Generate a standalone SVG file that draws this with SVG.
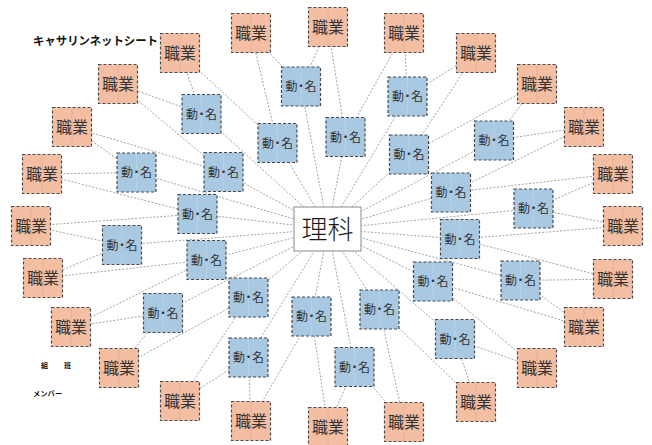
<svg xmlns="http://www.w3.org/2000/svg" width="652" height="445" viewBox="0 0 652 445">
<style>
.c{stroke:#8c8c8c;stroke-width:0.8;stroke-dasharray:2 1.6;fill:none}
.job rect{fill:#f4bea3;stroke:#4a4a4a;stroke-width:1.2;stroke-dasharray:3 2}
.job line{stroke:#e5ab90;stroke-width:0.8}
.vn rect{fill:#a9c9e2;stroke:#4a4a4a;stroke-width:1.2;stroke-dasharray:3 2}
.vn line{stroke:#b9d4e8;stroke-width:0.8}
text{font-family:"Liberation Sans","Noto Sans CJK JP",sans-serif;fill:#333;text-anchor:middle}
.job text{font-size:16px}
.vn text{font-size:12px}
.lbl{text-anchor:start;font-weight:bold;fill:#111}
</style>
<rect width="652" height="445" fill="#fff"/>
<g id="connectors">
<line class="c" x1="328" y1="229" x2="345.5" y2="137"/>
<line class="c" x1="328" y1="229" x2="407.5" y2="96.5"/>
<line class="c" x1="328" y1="229" x2="409" y2="154.5"/>
<line class="c" x1="328" y1="229" x2="494" y2="140.5"/>
<line class="c" x1="328" y1="229" x2="451" y2="192.5"/>
<line class="c" x1="328" y1="229" x2="533.5" y2="208.5"/>
<line class="c" x1="328" y1="229" x2="460" y2="239"/>
<line class="c" x1="328" y1="229" x2="520.5" y2="280.5"/>
<line class="c" x1="328" y1="229" x2="433" y2="281.5"/>
<line class="c" x1="328" y1="229" x2="455" y2="339"/>
<line class="c" x1="328" y1="229" x2="379.5" y2="309.5"/>
<line class="c" x1="328" y1="229" x2="354.5" y2="367"/>
<line class="c" x1="328" y1="229" x2="311.5" y2="316.5"/>
<line class="c" x1="328" y1="229" x2="248.5" y2="357.5"/>
<line class="c" x1="328" y1="229" x2="248.5" y2="297.5"/>
<line class="c" x1="328" y1="229" x2="163" y2="313"/>
<line class="c" x1="328" y1="229" x2="206.5" y2="260"/>
<line class="c" x1="328" y1="229" x2="122" y2="245"/>
<line class="c" x1="328" y1="229" x2="197.5" y2="214"/>
<line class="c" x1="328" y1="229" x2="136.5" y2="172.5"/>
<line class="c" x1="328" y1="229" x2="223.5" y2="172"/>
<line class="c" x1="328" y1="229" x2="201.5" y2="114"/>
<line class="c" x1="328" y1="229" x2="277.5" y2="143"/>
<line class="c" x1="328" y1="229" x2="301" y2="86.5"/>
<path class="c" d="M328 27L345.5 137L404 33"/>
<path class="c" d="M404 33L407.5 96.5L476 53"/>
<path class="c" d="M476 53L409 154.5L537 84"/>
<path class="c" d="M537 84L494 140.5L584 127"/>
<path class="c" d="M584 127L451 192.5L613 174"/>
<path class="c" d="M613 174L533.5 208.5L623 226"/>
<path class="c" d="M623 226L460 239L613 279"/>
<path class="c" d="M613 279L520.5 280.5L584 327"/>
<path class="c" d="M584 327L433 281.5L537 368"/>
<path class="c" d="M537 368L455 339L476 402"/>
<path class="c" d="M476 402L379.5 309.5L404 422"/>
<path class="c" d="M404 422L354.5 367L328 427"/>
<path class="c" d="M328 427L311.5 316.5L251 421"/>
<path class="c" d="M251 421L248.5 357.5L180 401"/>
<path class="c" d="M180 401L248.5 297.5L119 368"/>
<path class="c" d="M119 368L163 313L71 327"/>
<path class="c" d="M71 327L206.5 260L43 278"/>
<path class="c" d="M43 278L122 245L31 226"/>
<path class="c" d="M31 226L197.5 214L42 174"/>
<path class="c" d="M42 174L136.5 172.5L72 127"/>
<path class="c" d="M72 127L223.5 172L118 84"/>
<path class="c" d="M118 84L201.5 114L180 53"/>
<path class="c" d="M180 53L277.5 143L251 33"/>
<path class="c" d="M251 33L301 86.5L328 27"/>
</g>
<g id="center">
<rect x="294" y="207" width="67" height="44" fill="#fff" stroke="#8a8a8a" stroke-width="1"/>
<text x="327.5" y="238.5" style="font-size:26px;fill:#1a1a1a;font-weight:300">理科</text>
</g>
<g id="title"><text class="lbl" x="33" y="45" style="font-size:11.5px" textLength="125" lengthAdjust="spacingAndGlyphs">キャサリンネットシート</text></g>
<g id="footer">
<text class="lbl" x="41" y="368" style="font-size:7px">組</text>
<text class="lbl" x="64" y="368" style="font-size:7px">班</text>
<text class="lbl" x="33" y="396" style="font-size:7.3px">メンバー</text>
</g>
<g id="jobs">
<g id="job0" class="job" transform="translate(328 27)"><rect x="-19.5" y="-19.5" width="39" height="39"/><line x1="0" y1="-19" x2="0" y2="19"/><text y="6">職業</text></g>
<g id="job1" class="job" transform="translate(404 33)"><rect x="-19.5" y="-19.5" width="39" height="39"/><line x1="0" y1="-19" x2="0" y2="19"/><text y="6">職業</text></g>
<g id="job2" class="job" transform="translate(476 53)"><rect x="-19.5" y="-19.5" width="39" height="39"/><line x1="0" y1="-19" x2="0" y2="19"/><text y="6">職業</text></g>
<g id="job3" class="job" transform="translate(537 84)"><rect x="-19.5" y="-19.5" width="39" height="39"/><line x1="0" y1="-19" x2="0" y2="19"/><text y="6">職業</text></g>
<g id="job4" class="job" transform="translate(584 127)"><rect x="-19.5" y="-19.5" width="39" height="39"/><line x1="0" y1="-19" x2="0" y2="19"/><text y="6">職業</text></g>
<g id="job5" class="job" transform="translate(613 174)"><rect x="-19.5" y="-19.5" width="39" height="39"/><line x1="0" y1="-19" x2="0" y2="19"/><text y="6">職業</text></g>
<g id="job6" class="job" transform="translate(623 226)"><rect x="-19.5" y="-19.5" width="39" height="39"/><line x1="0" y1="-19" x2="0" y2="19"/><text y="6">職業</text></g>
<g id="job7" class="job" transform="translate(613 279)"><rect x="-19.5" y="-19.5" width="39" height="39"/><line x1="0" y1="-19" x2="0" y2="19"/><text y="6">職業</text></g>
<g id="job8" class="job" transform="translate(584 327)"><rect x="-19.5" y="-19.5" width="39" height="39"/><line x1="0" y1="-19" x2="0" y2="19"/><text y="6">職業</text></g>
<g id="job9" class="job" transform="translate(537 368)"><rect x="-19.5" y="-19.5" width="39" height="39"/><line x1="0" y1="-19" x2="0" y2="19"/><text y="6">職業</text></g>
<g id="job10" class="job" transform="translate(476 402)"><rect x="-19.5" y="-19.5" width="39" height="39"/><line x1="0" y1="-19" x2="0" y2="19"/><text y="6">職業</text></g>
<g id="job11" class="job" transform="translate(404 422)"><rect x="-19.5" y="-19.5" width="39" height="39"/><line x1="0" y1="-19" x2="0" y2="19"/><text y="6">職業</text></g>
<g id="job12" class="job" transform="translate(328 427)"><rect x="-19.5" y="-19.5" width="39" height="39"/><line x1="0" y1="-19" x2="0" y2="19"/><text y="6">職業</text></g>
<g id="job13" class="job" transform="translate(251 421)"><rect x="-19.5" y="-19.5" width="39" height="39"/><line x1="0" y1="-19" x2="0" y2="19"/><text y="6">職業</text></g>
<g id="job14" class="job" transform="translate(180 401)"><rect x="-19.5" y="-19.5" width="39" height="39"/><line x1="0" y1="-19" x2="0" y2="19"/><text y="6">職業</text></g>
<g id="job15" class="job" transform="translate(119 368)"><rect x="-19.5" y="-19.5" width="39" height="39"/><line x1="0" y1="-19" x2="0" y2="19"/><text y="6">職業</text></g>
<g id="job16" class="job" transform="translate(71 327)"><rect x="-19.5" y="-19.5" width="39" height="39"/><line x1="0" y1="-19" x2="0" y2="19"/><text y="6">職業</text></g>
<g id="job17" class="job" transform="translate(43 278)"><rect x="-19.5" y="-19.5" width="39" height="39"/><line x1="0" y1="-19" x2="0" y2="19"/><text y="6">職業</text></g>
<g id="job18" class="job" transform="translate(31 226)"><rect x="-19.5" y="-19.5" width="39" height="39"/><line x1="0" y1="-19" x2="0" y2="19"/><text y="6">職業</text></g>
<g id="job19" class="job" transform="translate(42 174)"><rect x="-19.5" y="-19.5" width="39" height="39"/><line x1="0" y1="-19" x2="0" y2="19"/><text y="6">職業</text></g>
<g id="job20" class="job" transform="translate(72 127)"><rect x="-19.5" y="-19.5" width="39" height="39"/><line x1="0" y1="-19" x2="0" y2="19"/><text y="6">職業</text></g>
<g id="job21" class="job" transform="translate(118 84)"><rect x="-19.5" y="-19.5" width="39" height="39"/><line x1="0" y1="-19" x2="0" y2="19"/><text y="6">職業</text></g>
<g id="job22" class="job" transform="translate(180 53)"><rect x="-19.5" y="-19.5" width="39" height="39"/><line x1="0" y1="-19" x2="0" y2="19"/><text y="6">職業</text></g>
<g id="job23" class="job" transform="translate(251 33)"><rect x="-19.5" y="-19.5" width="39" height="39"/><line x1="0" y1="-19" x2="0" y2="19"/><text y="6">職業</text></g>
</g>
<g id="verbs">
<g id="vn0" class="vn" transform="translate(345.5 137)"><rect x="-19.5" y="-19.5" width="39" height="39"/><line x1="0" y1="-19" x2="0" y2="19"/><text y="4.5" textLength="31" lengthAdjust="spacing">動・名</text></g>
<g id="vn1" class="vn" transform="translate(407.5 96.5)"><rect x="-19.5" y="-19.5" width="39" height="39"/><line x1="0" y1="-19" x2="0" y2="19"/><text y="4.5" textLength="31" lengthAdjust="spacing">動・名</text></g>
<g id="vn2" class="vn" transform="translate(409 154.5)"><rect x="-19.5" y="-19.5" width="39" height="39"/><line x1="0" y1="-19" x2="0" y2="19"/><text y="4.5" textLength="31" lengthAdjust="spacing">動・名</text></g>
<g id="vn3" class="vn" transform="translate(494 140.5)"><rect x="-19.5" y="-19.5" width="39" height="39"/><line x1="0" y1="-19" x2="0" y2="19"/><text y="4.5" textLength="31" lengthAdjust="spacing">動・名</text></g>
<g id="vn4" class="vn" transform="translate(451 192.5)"><rect x="-19.5" y="-19.5" width="39" height="39"/><line x1="0" y1="-19" x2="0" y2="19"/><text y="4.5" textLength="31" lengthAdjust="spacing">動・名</text></g>
<g id="vn5" class="vn" transform="translate(533.5 208.5)"><rect x="-19.5" y="-19.5" width="39" height="39"/><line x1="0" y1="-19" x2="0" y2="19"/><text y="4.5" textLength="31" lengthAdjust="spacing">動・名</text></g>
<g id="vn6" class="vn" transform="translate(460 239)"><rect x="-19.5" y="-19.5" width="39" height="39"/><line x1="0" y1="-19" x2="0" y2="19"/><text y="4.5" textLength="31" lengthAdjust="spacing">動・名</text></g>
<g id="vn7" class="vn" transform="translate(520.5 280.5)"><rect x="-19.5" y="-19.5" width="39" height="39"/><line x1="0" y1="-19" x2="0" y2="19"/><text y="4.5" textLength="31" lengthAdjust="spacing">動・名</text></g>
<g id="vn8" class="vn" transform="translate(433 281.5)"><rect x="-19.5" y="-19.5" width="39" height="39"/><line x1="0" y1="-19" x2="0" y2="19"/><text y="4.5" textLength="31" lengthAdjust="spacing">動・名</text></g>
<g id="vn9" class="vn" transform="translate(455 339)"><rect x="-19.5" y="-19.5" width="39" height="39"/><line x1="0" y1="-19" x2="0" y2="19"/><text y="4.5" textLength="31" lengthAdjust="spacing">動・名</text></g>
<g id="vn10" class="vn" transform="translate(379.5 309.5)"><rect x="-19.5" y="-19.5" width="39" height="39"/><line x1="0" y1="-19" x2="0" y2="19"/><text y="4.5" textLength="31" lengthAdjust="spacing">動・名</text></g>
<g id="vn11" class="vn" transform="translate(354.5 367)"><rect x="-19.5" y="-19.5" width="39" height="39"/><line x1="0" y1="-19" x2="0" y2="19"/><text y="4.5" textLength="31" lengthAdjust="spacing">動・名</text></g>
<g id="vn12" class="vn" transform="translate(311.5 316.5)"><rect x="-19.5" y="-19.5" width="39" height="39"/><line x1="0" y1="-19" x2="0" y2="19"/><text y="4.5" textLength="31" lengthAdjust="spacing">動・名</text></g>
<g id="vn13" class="vn" transform="translate(248.5 357.5)"><rect x="-19.5" y="-19.5" width="39" height="39"/><line x1="0" y1="-19" x2="0" y2="19"/><text y="4.5" textLength="31" lengthAdjust="spacing">動・名</text></g>
<g id="vn14" class="vn" transform="translate(248.5 297.5)"><rect x="-19.5" y="-19.5" width="39" height="39"/><line x1="0" y1="-19" x2="0" y2="19"/><text y="4.5" textLength="31" lengthAdjust="spacing">動・名</text></g>
<g id="vn15" class="vn" transform="translate(163 313)"><rect x="-19.5" y="-19.5" width="39" height="39"/><line x1="0" y1="-19" x2="0" y2="19"/><text y="4.5" textLength="31" lengthAdjust="spacing">動・名</text></g>
<g id="vn16" class="vn" transform="translate(206.5 260)"><rect x="-19.5" y="-19.5" width="39" height="39"/><line x1="0" y1="-19" x2="0" y2="19"/><text y="4.5" textLength="31" lengthAdjust="spacing">動・名</text></g>
<g id="vn17" class="vn" transform="translate(122 245)"><rect x="-19.5" y="-19.5" width="39" height="39"/><line x1="0" y1="-19" x2="0" y2="19"/><text y="4.5" textLength="31" lengthAdjust="spacing">動・名</text></g>
<g id="vn18" class="vn" transform="translate(197.5 214)"><rect x="-19.5" y="-19.5" width="39" height="39"/><line x1="0" y1="-19" x2="0" y2="19"/><text y="4.5" textLength="31" lengthAdjust="spacing">動・名</text></g>
<g id="vn19" class="vn" transform="translate(136.5 172.5)"><rect x="-19.5" y="-19.5" width="39" height="39"/><line x1="0" y1="-19" x2="0" y2="19"/><text y="4.5" textLength="31" lengthAdjust="spacing">動・名</text></g>
<g id="vn20" class="vn" transform="translate(223.5 172)"><rect x="-19.5" y="-19.5" width="39" height="39"/><line x1="0" y1="-19" x2="0" y2="19"/><text y="4.5" textLength="31" lengthAdjust="spacing">動・名</text></g>
<g id="vn21" class="vn" transform="translate(201.5 114)"><rect x="-19.5" y="-19.5" width="39" height="39"/><line x1="0" y1="-19" x2="0" y2="19"/><text y="4.5" textLength="31" lengthAdjust="spacing">動・名</text></g>
<g id="vn22" class="vn" transform="translate(277.5 143)"><rect x="-19.5" y="-19.5" width="39" height="39"/><line x1="0" y1="-19" x2="0" y2="19"/><text y="4.5" textLength="31" lengthAdjust="spacing">動・名</text></g>
<g id="vn23" class="vn" transform="translate(301 86.5)"><rect x="-19.5" y="-19.5" width="39" height="39"/><line x1="0" y1="-19" x2="0" y2="19"/><text y="4.5" textLength="31" lengthAdjust="spacing">動・名</text></g>
</g>
</svg>
